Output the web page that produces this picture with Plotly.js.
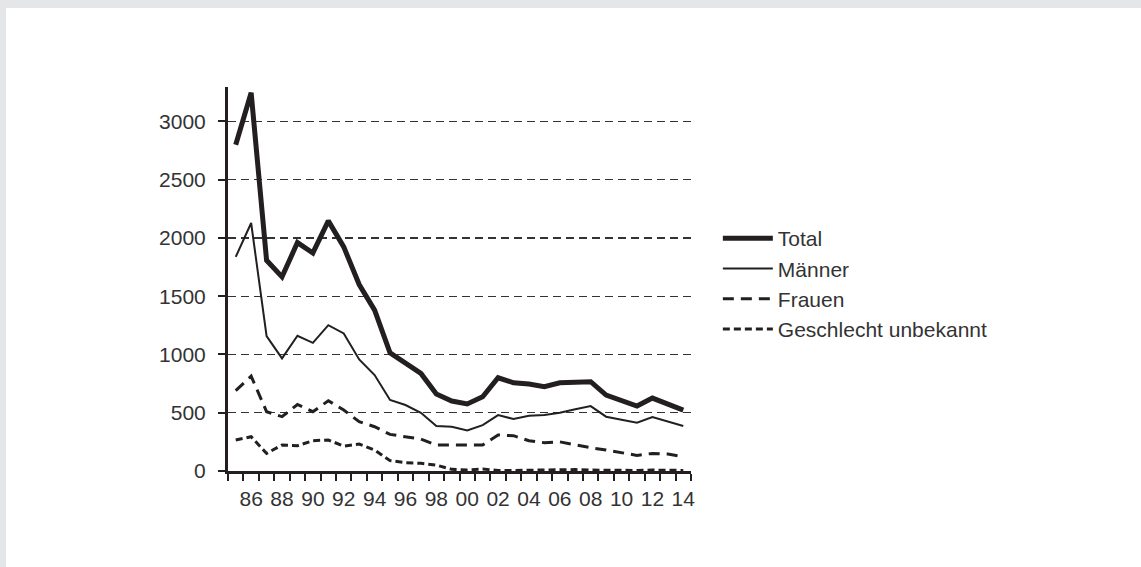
<!DOCTYPE html>
<html>
<head>
<meta charset="utf-8">
<script src="https://cdn.plot.ly/plotly-3.0.1.min.js"></script>
<style>
  html, body { margin: 0; padding: 0; background: #e5e6e8; }
  #chart { position: absolute; left: 6px; top: 8px; width: 1135px; height: 559px; background: #fff; }
</style>
</head>
<body>
<div id="chart"></div>
<script>
// Werte
const years = [1985, 1986, 1987, 1988, 1989, 1990, 1991, 1992, 1993, 1994,
               1995, 1996, 1997, 1998, 1999, 2000, 2001, 2002, 2003, 2004,
               2005, 2006, 2007, 2008, 2009, 2010, 2011, 2012, 2013, 2014];
const total = [2800, 3245, 1808, 1666, 1960, 1871, 2146, 1923, 1600, 1380,
               1014, 923, 837, 660, 600, 575, 637, 800, 757, 746,
               723, 757, 757, 766, 651, 603, 557, 626, 580, 523];
const maenner = [1837, 2128, 1157, 966, 1160, 1100, 1251, 1180, 957, 823,
                 609, 566, 500, 386, 380, 347, 394, 480, 446, 474,
                 480, 500, 529, 557, 466, 437, 414, 463, 423, 386];
const frauen = [689, 814, 509, 466, 571, 509, 603, 523, 423, 380,
                314, 294, 274, 223, 223, 220, 223, 309, 303, 260,
                243, 250, 223, 200, 180, 157, 134, 151, 146, 123];
const unbekannt = [266, 294, 151, 223, 217, 260, 266, 214, 231, 180,
                   89, 71, 66, 51, 14, 9, 17, 5, 5, 8,
                   8, 10, 12, 8, 6, 5, 5, 8, 6, 5];
const tickYears = [1986, 1988, 1990, 1992, 1994, 1996, 1998, 2000, 2002, 2004, 2006, 2008, 2010, 2012, 2014];
const tickLabels = ["86", "88", "90", "92", "94", "96", "98", "00", "02", "04", "06", "08", "10", "12", "14"];

// tick marks sit between the years
const yearBounds = years.map(y => y - 0.5).concat([years[years.length - 1] + 0.5]);

const ink = "#231f20";

const traces = [
    {
        type: "scatter", mode: "lines", name: "Total",
        x: years, y: total,
        line: { color: ink, width: 5 }
    },
    {
        type: "scatter", mode: "lines", name: "Männer",
        x: years, y: maenner,
        line: { color: ink, width: 2 }
    },
    {
        type: "scatter", mode: "lines", name: "Frauen",
        x: years, y: frauen,
        line: { color: ink, width: 3, dash: "11px,7px" }
    },
    {
        type: "scatter", mode: "lines", name: "Geschlecht unbekannt",
        x: years, y: unbekannt,
        line: { color: ink, width: 3, dash: "7px,4px" }
    }
];

Plotly.newPlot("chart", traces, {
    width: 1135,
    height: 559,
    margin: { l: 222, r: 450, t: 79, b: 96 },
    paper_bgcolor: "#fff",
    plot_bgcolor: "#fff",
    font: { family: "Liberation Sans, Arial, sans-serif", size: 21, color: "#333" },
    showlegend: true,
    legend: {
        x: 1.058, xanchor: "left",
        y: 0.487, yanchor: "middle",
        itemwidth: 50,
        font: { size: 21, color: "#333" },
        bgcolor: "rgba(0,0,0,0)"
    },

    // Achsen
    xaxis: {
        type: "linear",
        range: [1984.5, 2014.5],
        tickvals: tickYears,
        ticktext: tickLabels,
        ticks: "outside",
        ticklen: 7,
        tickcolor: "rgba(0,0,0,0)",
        ticklabelstandoff: 0,
        minor: {
            tickmode: "array",
            tickvals: yearBounds,
            ticks: "outside",
            ticklen: 7,
            tickwidth: 2,
            tickcolor: ink,
            showgrid: false
        },
        showline: true,
        linecolor: ink,
        linewidth: 3,
        showgrid: false,
        zeroline: false,
        fixedrange: true
    },
    yaxis: {
        range: [0, 3295],
        tickvals: [0, 500, 1000, 1500, 2000, 2500, 3000],
        ticks: "outside",
        ticklen: 7,
        tickwidth: 2,
        tickcolor: ink,
        ticklabelstandoff: 8,
        showline: true,
        linecolor: ink,
        linewidth: 3,
        showgrid: true,
        gridcolor: "#333",
        gridwidth: 1.3,
        griddash: "8px,5px",
        zeroline: false,
        fixedrange: true
    }
}, { displayModeBar: false, staticPlot: true });
</script>
</body>
</html>
